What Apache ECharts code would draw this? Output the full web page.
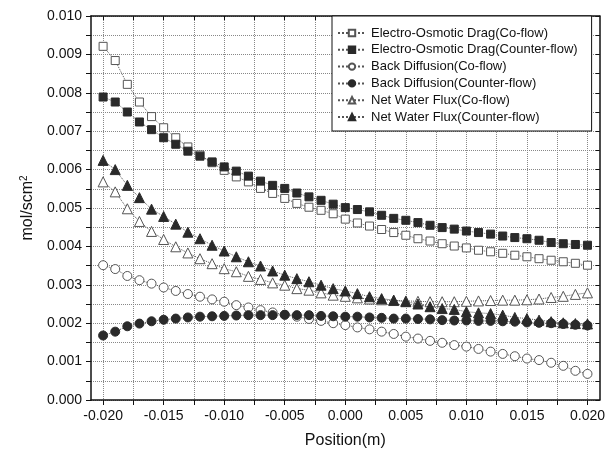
<!DOCTYPE html>
<html>
<head>
<meta charset="utf-8">
<script src="https://cdn.jsdelivr.net/npm/echarts@6/dist/echarts.min.js"></script>
<style>
html,body{margin:0;padding:0;background:#fff;}
#chart{width:608px;height:459px;}
</style>
</head>
<body>
<div id="chart"></div>
<script>
// ---- data (mol/scm^2 vs position in m) ----
const positions = [-0.020,-0.019,-0.018,-0.017,-0.016,-0.015,-0.014,-0.013,-0.012,-0.011,-0.010,-0.009,-0.008,-0.007,-0.006,-0.005,-0.004,-0.003,-0.002,-0.001,0.000,0.001,0.002,0.003,0.004,0.005,0.006,0.007,0.008,0.009,0.010,0.011,0.012,0.013,0.014,0.015,0.016,0.017,0.018,0.019,0.020];

const eodCo = [0.00921,0.00884,0.00822,0.00776,0.00738,0.00709,0.00683,0.00659,0.00638,0.00618,0.00598,0.00581,0.00568,0.00551,0.00538,0.00525,0.00512,0.00502,0.00494,0.00485,0.00471,0.00461,0.00453,0.00444,0.00436,0.00429,0.00420,0.00414,0.00407,0.00401,0.00396,0.00390,0.00386,0.00382,0.00377,0.00373,0.00368,0.00364,0.00360,0.00356,0.00351];

const eodCounter = [0.00789,0.00776,0.00750,0.00724,0.00704,0.00683,0.00666,0.00648,0.00635,0.00620,0.00607,0.00596,0.00583,0.00570,0.00559,0.00551,0.00539,0.00529,0.00520,0.00510,0.00501,0.00496,0.00490,0.00481,0.00473,0.00468,0.00462,0.00455,0.00449,0.00445,0.00440,0.00436,0.00432,0.00427,0.00423,0.00420,0.00416,0.00410,0.00407,0.00405,0.00403];

const bdCo = [0.00351,0.00341,0.00323,0.00312,0.00303,0.00293,0.00284,0.00276,0.00269,0.00262,0.00256,0.00247,0.00241,0.00234,0.00228,0.00222,0.00217,0.00211,0.00206,0.00200,0.00195,0.00189,0.00184,0.00178,0.00172,0.00165,0.00160,0.00154,0.00149,0.00143,0.00139,0.00133,0.00126,0.00120,0.00114,0.00108,0.00104,0.00097,0.00089,0.00076,0.00068];

const bdCounter = [0.00168,0.00178,0.00192,0.00199,0.00205,0.00209,0.00212,0.00215,0.00217,0.00218,0.00219,0.00220,0.00221,0.00221,0.00221,0.00222,0.00221,0.00221,0.00219,0.00218,0.00217,0.00217,0.00215,0.00214,0.00212,0.00212,0.00211,0.00210,0.00208,0.00207,0.00207,0.00206,0.00206,0.00205,0.00204,0.00202,0.00201,0.00200,0.00198,0.00196,0.00194];

const nwfCo = [0.00568,0.00542,0.00498,0.00465,0.00439,0.00418,0.00399,0.00383,0.00368,0.00355,0.00342,0.00334,0.00322,0.00314,0.00305,0.00299,0.00290,0.00286,0.00279,0.00273,0.00270,0.00266,0.00263,0.00261,0.00259,0.00258,0.00257,0.00256,0.00256,0.00256,0.00257,0.00258,0.00259,0.00260,0.00260,0.00261,0.00263,0.00267,0.00270,0.00275,0.00279];

const nwfCounter = [0.00624,0.00600,0.00559,0.00527,0.00497,0.00478,0.00458,0.00437,0.00420,0.00403,0.00388,0.00373,0.00360,0.00349,0.00336,0.00325,0.00316,0.00308,0.00299,0.00290,0.00284,0.00277,0.00269,0.00264,0.00260,0.00256,0.00250,0.00243,0.00238,0.00236,0.00230,0.00227,0.00225,0.00221,0.00215,0.00212,0.00208,0.00204,0.00201,0.00199,0.00198];

const seriesNames = [
  'Electro-Osmotic Drag(Co-flow)',
  'Electro-Osmotic Drag(Counter-flow)',
  'Back Diffusion(Co-flow)',
  'Back Diffusion(Counter-flow)',
  'Net Water Flux(Co-flow)',
  'Net Water Flux(Counter-flow)'
];

const xLabelValues = [-0.020,-0.015,-0.010,-0.005,0.000,0.005,0.010,0.015,0.020];
const xTickValues = [-0.020,-0.0175,-0.015,-0.0125,-0.010,-0.0075,-0.005,-0.0025,0.000,0.0025,0.005,0.0075,0.010,0.0125,0.015,0.0175,0.020];
const yLabelValues = [0.000,0.001,0.002,0.003,0.004,0.005,0.006,0.007,0.008,0.009,0.010];

// ---- chart ----
const FONT = '"Liberation Sans", Arial, sans-serif';
const pair = arr => positions.map((x, i) => [x, arr[i]]);

const lineStyle = { type: 'dotted', width: 1, color: '#555' };
function mkSeries(name, arr, symbol, filled, size) {
  return {
    name: name,
    type: 'line',
    data: pair(arr),
    symbol: symbol,
    symbolSize: size,
    showSymbol: true,
    lineStyle: lineStyle,
    itemStyle: {
      color: filled ? '#2a2a2a' : '#ffffff',
      borderColor: filled ? '#2a2a2a' : '#555555',
      borderWidth: 1
    },
    emphasis: { disabled: true },
    animation: false
  };
}

const chart = echarts.init(document.getElementById('chart'), null, { renderer: 'canvas' });
chart.setOption({
  backgroundColor: '#ffffff',
  animation: false,
  grid: { left: 91, right: 7, top: 16, bottom: 59, containLabel: false },
  legend: {
    orient: 'vertical',
    left: 332,
    top: 16,
    padding: [10, 14, 7, 5],
    itemGap: 2.8,
    itemWidth: 28,
    itemHeight: 8,
    backgroundColor: '#ffffff',
    borderColor: '#111',
    borderWidth: 1,
    textStyle: { fontFamily: FONT, fontSize: 13, color: '#111', lineHeight: 14 },
    data: seriesNames,
    z: 10
  },
  xAxis: [
    {
      type: 'value',
      min: -0.021,
      max: 0.021,
      name: 'Position(m)',
      nameLocation: 'middle',
      nameGap: 33,
      nameTextStyle: { fontFamily: FONT, fontSize: 16, color: '#111' },
      axisLine: { show: true, onZero: false, lineStyle: { color: '#111', width: 1.5 } },
      axisTick: { show: true, inside: false, length: 5, customValues: xTickValues, lineStyle: { color: '#111' } },
      axisLabel: {
        customValues: xLabelValues,
        fontFamily: FONT, fontSize: 14, color: '#111', margin: 9,
        formatter: v => v.toFixed(3)
      },
      splitLine: { show: true, lineStyle: { type: 'dotted', color: '#888', width: 1 } }
    },
    {
      type: 'value',
      position: 'top',
      min: -0.021,
      max: 0.021,
      axisLine: { show: true, onZero: false, lineStyle: { color: '#111', width: 1.5 } },
      axisTick: { show: true, inside: true, length: 4, customValues: xTickValues, lineStyle: { color: '#111' } },
      axisLabel: { show: false },
      splitLine: { show: false }
    }
  ],
  yAxis: [
    {
      type: 'value',
      min: 0,
      max: 0.010,
      interval: 0.0005,
      name: 'mol/scm{sup|2}',
      nameLocation: 'middle',
      nameRotate: 90,
      nameGap: 52,
      nameTextStyle: {
        fontFamily: FONT, fontSize: 16, color: '#111',
        rich: { sup: { fontFamily: FONT, fontSize: 10, color: '#111', verticalAlign: 'top', padding: [0, 0, 8, 0] } }
      },
      axisLine: { show: true, onZero: false, lineStyle: { color: '#111', width: 1.5 } },
      axisTick: { show: true, inside: false, length: 5, lineStyle: { color: '#111' } },
      axisLabel: {
        customValues: yLabelValues,
        fontFamily: FONT, fontSize: 14, color: '#111', margin: 9,
        formatter: v => v.toFixed(3)
      },
      splitLine: { show: true, lineStyle: { type: 'dotted', color: '#888', width: 1 } }
    },
    {
      type: 'value',
      position: 'right',
      min: 0,
      max: 0.010,
      interval: 0.0005,
      axisLine: { show: true, onZero: false, lineStyle: { color: '#111', width: 1.5 } },
      axisTick: { show: true, inside: true, length: 4, lineStyle: { color: '#111' } },
      axisLabel: { show: false },
      splitLine: { show: false }
    }
  ],
  series: [
    mkSeries(seriesNames[0], eodCo, 'rect', false, 8),
    mkSeries(seriesNames[1], eodCounter, 'rect', true, 8),
    mkSeries(seriesNames[2], bdCo, 'circle', false, 9),
    mkSeries(seriesNames[3], bdCounter, 'circle', true, 9),
    mkSeries(seriesNames[4], nwfCo, 'triangle', false, 10),
    mkSeries(seriesNames[5], nwfCounter, 'triangle', true, 10)
  ]
});
</script>
</body>
</html>
